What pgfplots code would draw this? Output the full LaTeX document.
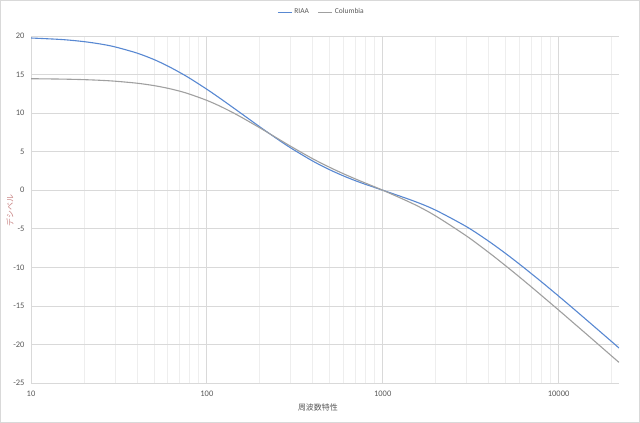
\documentclass[border=0pt]{standalone}
\usepackage{pgfplots}
\pgfplotsset{compat=1.18}
\usepackage{pgfplotstable}
\usepackage{fontspec}
\setmainfont{Carlito}
\newfontfamily\jp{Noto Sans CJK JP}
\definecolor{riaa}{RGB}{88,136,210}
\definecolor{colum}{RGB}{160,160,160}
\definecolor{gridmaj}{RGB}{217,217,217}
\definecolor{gridmin}{RGB}{238,238,238}
\definecolor{ticktxt}{RGB}{89,89,89}
\definecolor{ylab}{RGB}{200,130,130}

\pgfplotstableread{
f db
10 19.74
15 19.54
20 19.27
25 18.95
30 18.59
40 17.79
50 16.95
60 16.10
70 15.28
80 14.51
100 13.09
120 11.85
150 10.27
200 8.22
250 6.68
300 5.48
400 3.78
500 2.65
600 1.84
700 1.23
800 0.75
1000 0
1500 -1.40
2000 -2.59
3000 -4.74
4000 -6.61
5000 -8.21
6000 -9.60
7000 -10.82
8000 -11.89
10000 -13.73
12000 -15.26
15000 -17.16
20000 -19.62
22050 -20.46
}\riaatab

\pgfplotstableread{
f db
10 14.46
15 14.41
20 14.34
25 14.25
30 14.14
40 13.88
50 13.57
60 13.22
70 12.85
80 12.45
100 11.65
120 10.85
150 9.72
200 8.09
250 6.77
300 5.69
400 4.08
500 2.96
600 2.12
700 1.46
800 0.91
1000 0
1500 -1.80
2000 -3.34
3000 -5.95
4000 -8.06
5000 -9.80
6000 -11.27
7000 -12.54
8000 -13.66
10000 -15.54
12000 -17.10
15000 -19.01
20000 -21.49
22050 -22.33
}\coltab

\begin{document}
\begin{tikzpicture}
\fill[white] (0,0) rectangle (640bp,423bp);
\draw[gridmaj, line width=0.75bp] (0.4bp,0.4bp) rectangle (639.6bp,422.6bp);
\begin{axis}[
  at={(31bp,40bp)}, anchor=south west,
  scale only axis, width=588bp, height=347bp,
  xmode=log, log basis x=10,
  xmin=10, xmax=22050, ymin=-25, ymax=20,
  xtick={10,100,1000,10000}, xticklabels={10,100,1000,10000},
  minor xtick={20,30,40,50,60,70,80,90,200,300,400,500,600,700,800,900,2000,3000,4000,5000,6000,7000,8000,9000,20000},
  ytick={-25,-20,-15,-10,-5,0,5,10,15,20},
  yticklabels={-25,-20,-15,-10,-5,0,5,10,15,20},
  major tick length=0pt, minor tick length=0pt,
  xmajorgrids, ymajorgrids, xminorgrids,
  major grid style={gridmaj, line width=0.75bp},
  minor grid style={gridmin, line width=0.75bp},
  axis line style={draw=none},
  tick label style={font=\fontsize{8.5}{9}\selectfont, text=ticktxt},
  xticklabel style={yshift=-4bp},
  yticklabel style={xshift=-3bp},
  xlabel={\jp 周波数特性},
  xlabel style={at={(axis description cs:0.488,-0.072)}, anchor=center, font=\fontsize{8}{9}\selectfont, text=ticktxt},
  ylabel={\jp デシベル},
  ylabel style={at={(axis description cs:-0.0357,0.496)}, anchor=center, font=\fontsize{8}{9}\selectfont, text=ylab},
  legend style={draw=none, fill=none, at={(axis description cs:0.494,1.069)}, anchor=center,
    legend columns=2, font=\fontsize{7.5}{9}\selectfont, text=ticktxt,
    /tikz/every even column/.append style={column sep=7bp}},
  legend image code/.code={\draw[#1, line width=1.1bp] (0bp,0bp) -- (14bp,0bp);},
]
\addplot[riaa, line width=1.1bp, smooth] table[x=f, y=db] {\riaatab};
\addlegendentry{RIAA}
\addplot[colum, line width=1.1bp, smooth] table[x=f, y=db] {\coltab};
\addlegendentry{Columbia}
\end{axis}
\end{tikzpicture}
\end{document}
